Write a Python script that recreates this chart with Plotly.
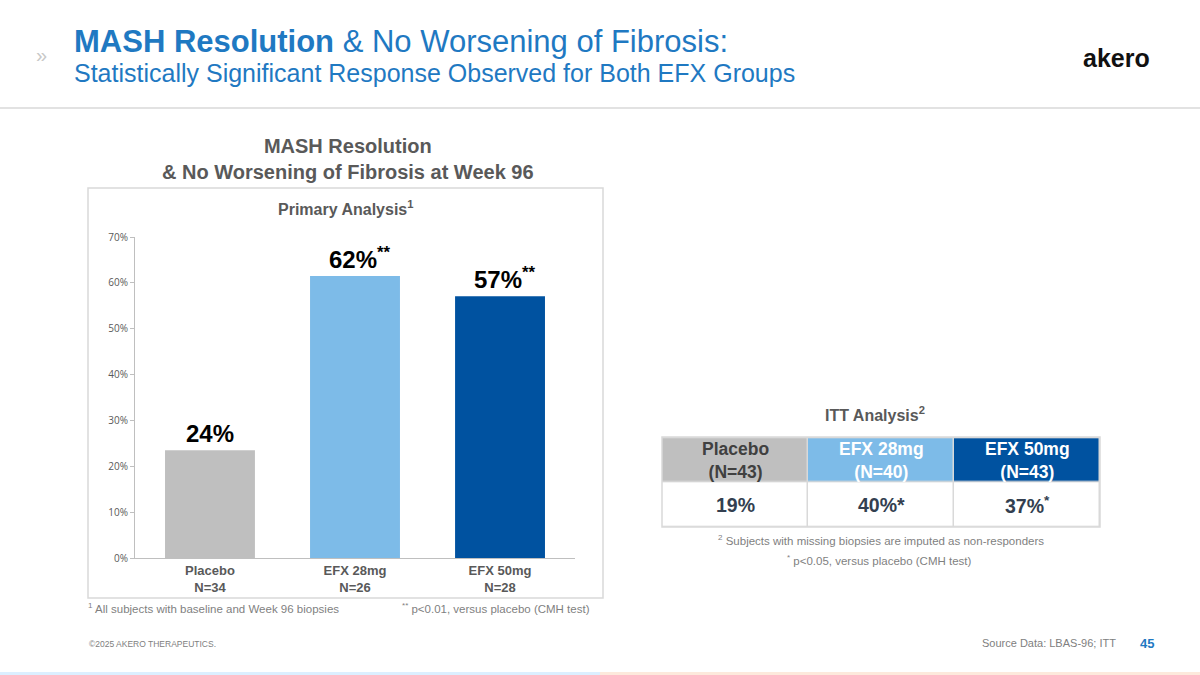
import plotly.graph_objects as go

# ---------------- data ----------------
categories = ["Placebo", "EFX 28mg", "EFX 50mg"]
primary_n = [34, 26, 28]
primary_values = [23.5, 61.5, 57.1]
primary_labels = ["24%", "62%", "57%"]
primary_sig = ["", "**", "**"]
bar_colors = ["#bfbfbf", "#7dbbe8", "#0052a0"]
y_tick_vals = [0, 10, 20, 30, 40, 50, 60, 70]
y_tick_text = ["0%", "10%", "20%", "30%", "40%", "50%", "60%", "70%"]

itt_n = [43, 40, 43]
itt_labels = ["19%", "40%*", "37%<sup>*</sup>"]
itt_header_text_colors = ["#404040", "#ffffff", "#ffffff"]
itt_rows = ["value", "header"]

W, H = 1200, 675
FONT = "Liberation Sans, Arial, sans-serif"
BLUE = "#1f79c2"
GRAY = "#595959"
BORDER = "#d9d9d9"


def px(x):
    return x / W


def py(y):
    return 1 - y / H


fig = go.Figure()

fig.add_trace(go.Bar(
    x=categories,
    y=primary_values,
    marker=dict(color=bar_colors, line=dict(width=0)),
    width=0.62,
    hoverinfo="skip",
    showlegend=False,
))

# bar value labels
annotations = []
for c, v, lab, s in zip(categories, primary_values, primary_labels, primary_sig):
    txt = "<b>" + lab + ("<sup>" + s + "</sup>" if s else "") + "</b>"
    annotations.append(dict(
        x=c, y=v, xref="x", yref="y", text=txt, showarrow=False,
        yanchor="bottom", yshift=1, xshift=(5 if s else 0),
        font=dict(family=FONT, size=24, color="#000000"),
    ))

ticktext_x = ["<b>%s<br>N=%d</b>" % (c, n) for c, n in zip(categories, primary_n)]

fig.update_layout(
    xaxis=dict(
        domain=[px(135), px(575)],
        range=[-0.517, 2.517],
        tickmode="array", tickvals=categories, ticktext=ticktext_x,
        tickfont=dict(family=FONT, size=13, color=GRAY),
        showline=True, linecolor="#bfbfbf", linewidth=1,
        ticks="", showgrid=False, zeroline=False, fixedrange=True,
    ),
    yaxis=dict(
        domain=[py(558), py(237)],
        range=[0, 70],
        tickmode="array", tickvals=y_tick_vals, ticktext=y_tick_text,
        tickfont=dict(family="Open Sans, sans-serif", size=10, color=GRAY),
        showline=True, linecolor="#bfbfbf", linewidth=1,
        ticks="outside", ticklen=4, tickcolor="#bfbfbf",
        showgrid=False, zeroline=False, fixedrange=True,
    ),
    xaxis2=dict(
        domain=[px(662), px(1100)], anchor="y2",
        categoryorder="array", categoryarray=categories,
        showticklabels=False, showgrid=False, zeroline=False, showline=False,
        ticks="", fixedrange=True,
    ),
    yaxis2=dict(
        domain=[py(527), py(437)], anchor="x2",
        categoryorder="array", categoryarray=itt_rows,
        showticklabels=False, showgrid=False, zeroline=False, showline=False,
        ticks="", fixedrange=True,
    ),
)

# ITT table drawn as a heatmap grid (value row at bottom, header row on top)
z_header = [0, 1, 2]
z_value = [3, 3, 3]
fig.add_trace(go.Heatmap(
    x=categories, y=itt_rows, z=[z_value, z_header],
    xaxis="x2", yaxis="y2",
    zmin=0, zmax=3,
    colorscale=[[0, bar_colors[0]], [1 / 3, bar_colors[1]], [2 / 3, bar_colors[2]], [1, "#ffffff"]],
    showscale=False, xgap=1.5, ygap=1.5, hoverinfo="skip",
))

for c, n, col in zip(categories, itt_n, itt_header_text_colors):
    annotations.append(dict(
        x=c, y="header", xref="x2", yref="y2",
        text="<b>%s<br>(N=%d)</b>" % (c, n), showarrow=False,
        font=dict(family=FONT, size=17.5, color=col),
    ))
for c, lab in zip(categories, itt_labels):
    annotations.append(dict(
        x=c, y="value", xref="x2", yref="y2",
        text="<b>%s</b>" % lab, showarrow=False,
        font=dict(family=FONT, size=19.5, color="#333f50"),
    ))


def add_text(x, y, text, size, color, xanchor="left", bold=False, family=FONT):
    if bold:
        text = "<b>" + text + "</b>"
    annotations.append(dict(
        x=px(x), y=py(y), xref="paper", yref="paper", text=text,
        showarrow=False, xanchor=xanchor, yanchor="middle",
        font=dict(family=family, size=size, color=color),
    ))


# slide header
add_text(34, 55, "»", 20, "#c8c8c8")
add_text(72, 42, "<b>MASH Resolution</b> & No Worsening of Fibrosis:", 31, BLUE)
add_text(72, 73, "Statistically Significant Response Observed for Both EFX Groups", 25, BLUE)
add_text(1116, 58, "<b>akero</b>", 25, "#111111", xanchor="center")

# chart titles
add_text(348, 159, "MASH Resolution<br>& No Worsening of Fibrosis at Week 96", 20, GRAY,
         xanchor="center", bold=True)
add_text(346, 208, "Primary Analysis<sup>1</sup>", 16, GRAY, xanchor="center", bold=True)
add_text(875, 414, "ITT Analysis<sup>2</sup>", 16, GRAY, xanchor="center", bold=True)

# footnotes
add_text(86, 608, "<sup>1</sup> All subjects with baseline and Week 96 biopsies", 11.5, "#7f7f7f")
add_text(592, 608, "<sup>**</sup> p<0.01, versus placebo (CMH test)", 11.5, "#7f7f7f", xanchor="right")
add_text(881, 540, "<sup>2</sup> Subjects with missing biopsies are imputed as non-responders", 11.5,
         "#7f7f7f", xanchor="center")
add_text(880, 560, "<sup>*</sup> p<0.05, versus placebo (CMH test)", 11.5, "#7f7f7f", xanchor="center")

# slide footer
add_text(87, 644, "©2025 AKERO THERAPEUTICS.", 8.5, "#808080")
add_text(1118, 643, "Source Data: LBAS-96; ITT", 11, "#808080", xanchor="right")
add_text(1147, 643, "<b>45</b>", 13, BLUE, xanchor="center")

shapes = [
    # header separator
    dict(type="line", xref="paper", yref="paper", x0=0, x1=1, y0=py(108), y1=py(108),
         line=dict(color=BORDER, width=1.5)),
    # chart frame
    dict(type="rect", xref="paper", yref="paper", x0=px(88), x1=px(603), y0=py(598), y1=py(188),
         line=dict(color=BORDER, width=1.5), fillcolor="rgba(0,0,0,0)", layer="below"),
    # table grid background (shows through cell gaps) and outer border
    dict(type="rect", xref="x2 domain", yref="y2 domain", x0=0, x1=1, y0=0, y1=1,
         line=dict(width=0), fillcolor=BORDER, layer="below"),
    dict(type="rect", xref="x2 domain", yref="y2 domain", x0=0, x1=1, y0=0, y1=1,
         line=dict(color=BORDER, width=1.5), fillcolor="rgba(0,0,0,0)", layer="above"),
    # bottom strip
    dict(type="rect", xref="paper", yref="paper", x0=0, x1=0.5, y0=0, y1=py(672),
         line=dict(width=0), fillcolor="#dcefff"),
    dict(type="rect", xref="paper", yref="paper", x0=0.5, x1=1, y0=0, y1=py(672),
         line=dict(width=0), fillcolor="#fde9dc"),
]

fig.update_layout(
    width=W, height=H,
    margin=dict(l=0, r=0, t=0, b=0, pad=0, autoexpand=False),
    paper_bgcolor="#ffffff", plot_bgcolor="#ffffff",
    annotations=annotations, shapes=shapes,
    showlegend=False,
)

fig.write_html("out.html", config={"displayModeBar": False})
